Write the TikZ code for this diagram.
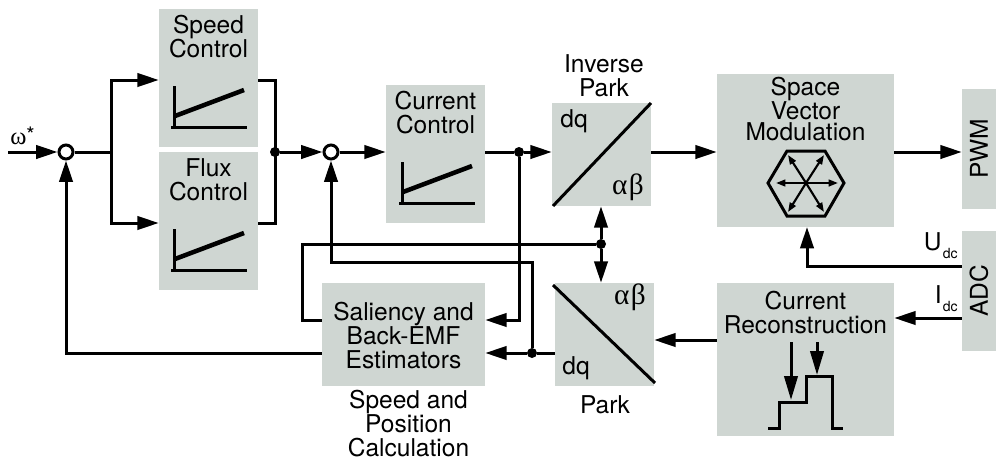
\documentclass[tikz,border=0pt]{standalone}
\usepackage{fontspec}
\setmainfont{TeX Gyre Heros}
\newfontfamily\grkfont{Liberation Serif}
\usetikzlibrary{arrows.meta}
\definecolor{boxgray}{RGB}{207,214,210}
\newcommand{\dcsub}{\kern1pt\raisebox{-6pt}{\fontsize{10.5}{11}\selectfont dc}}
\newcommand{\abtxt}{\fontsize{22}{22}\grkfont α\kern1pt β}
\tikzset{
  block/.style={fill=boxgray,inner sep=0pt},
  lbl/.style={inner sep=0.75pt,align=center,font=\fontsize{18.4}{18}\selectfont},
  tight/.style={lbl,font=\fontsize{18.4}{16}\selectfont},
  sig/.style={line width=2.25pt,-{Triangle[length=16pt,width=10pt]}},
  wire/.style={line width=2.25pt},
  dotj/.style={circle,fill=black,inner sep=0pt,minimum size=7.5pt},
  sumj/.style={circle,draw,line width=2.25pt,fill=white,inner sep=0pt,minimum size=10.5pt},
  vec/.style={line width=1.6pt,-{Triangle[length=7pt,width=5pt]}},
}
\begin{document}
\begin{tikzpicture}[x=0.75pt,y=0.75pt,yscale=-1,xscale=1]
\useasboundingbox (0,0) rectangle (996,458);

% Blocks
\node (speed) [block,minimum width=74.25pt,minimum height=103.5pt] at (208.5,78) {};
\node (flux) [block,minimum width=74.25pt,minimum height=103.5pt] at (208.5,221) {};
\node (curctl) [block,minimum width=74.25pt,minimum height=103.5pt] at (435.5,154) {};
\node (invpark) [block,minimum width=74.25pt,minimum height=77.25pt] at (601.5,154.5) {};
\node (svm) [block,minimum width=132.75pt,minimum height=114.75pt] at (805.5,150.5) {};
\node (pwm) [block,minimum width=25.5pt,minimum height=90pt] at (979,149) {};
\node (adc) [block,minimum width=25.5pt,minimum height=90pt] at (979,291) {};
\node (estim) [block,minimum width=122.25pt,minimum height=77.25pt] at (403.5,334.5) {};
\node (park) [block,minimum width=74.25pt,minimum height=77.25pt] at (604.5,334.5) {};
\node (recon) [block,minimum width=132.75pt,minimum height=114.75pt] at (805.5,359.5) {};

% Junctions
\node (sumw) [sumj] at (66,152) {};
\node (sumi) [sumj] at (331,152) {};
\node (jctl) [dotj] at (275,152) {};
\node (jcur) [dotj] at (519,152) {};
\node (jest) [dotj] at (601,244) {};
\node (jpark) [dotj] at (532,353) {};
\coordinate (wstart) at (8,152);
\coordinate (split) at (111,152);

%Straight Lines
\draw [sig] (wstart) -- (sumw);
\draw [wire] (sumw) -- (split);
\draw [sig] (split) |- (speed.west |- 0,80);
\draw [sig] (split) |- (flux.west |- 0,223);
\draw [wire] (speed.east |- 0,80) -| (jctl.center) |- (flux.east |- 0,223);
\draw [sig] (jctl) -- (sumi);
\draw [sig] (sumi) -- (curctl.west |- sumi);
\draw [wire] (curctl.east |- jcur) -- (jcur);
\draw [sig] (jcur) -- (invpark.west |- jcur);
\draw [sig] (invpark.east |- 0,152) -- (svm.west |- 0,152);
\draw [sig] (svm.east |- 0,152) -- (pwm.west |- 0,152);
\draw [sig] (adc.west |- 0,266) -| (807,227);
\draw [sig] (adc.west |- 0,318) -- (recon.east |- 0,318);
\draw [sig] (recon.west |- 0,340) -- (park.east |- 0,340);
\draw [wire] (park.west |- jpark) -- (jpark);
\draw [sig] (jpark) -- (estim.east |- jpark);
\draw [sig] (jest) -- (jest |- invpark.south);
\draw [sig] (jest) -- (jest |- park.north);
\draw [wire] (jest) -- (302,244) |- (estim.west |- 0,320);
\draw [sig] (jcur) |- (estim.east |- 0,320);
\draw [sig] (jpark) |- (sumi |- 0,262) -- (sumi);
\draw [sig] (estim.west |- 0,353) -| (sumw);

% Gain plots
\foreach \ox/\oy in {0/0,0/143,228/76}{
  \begin{scope}[shift={(\ox,\oy)}]
  \draw [line width=2.25pt] (174,86) -- (174,127);
  \draw [line width=2.25pt] (171,127) -- (247,127);
  \draw [line width=3.4pt] (175,116) -- (244,90);
  \end{scope}
}

% Park diagonals
\draw [line width=2.25pt] (553,206) -- (651,103);
\draw [line width=2.25pt] (553,285) -- (655,383);

% Hexagon
\draw [line width=2.25pt] (768,183) -- (787,151) -- (825,151) -- (844,183) -- (825,216) -- (787,216) -- cycle;
\foreach \tx/\ty in {776/183,838/183,788/155,824/155,788/212,824/212}{
  \draw [vec] (806,183) -- (\tx,\ty);
}

% Pulse
\draw [line width=2.25pt] (768,428) -- (779,428) -- (779,402) -- (806,402) -- (806,376) -- (832,376) -- (832,428) -- (843,428);
\draw [line width=2.25pt,-{Triangle[length=18pt,width=10pt]}] (791,342) -- (791,400);
\draw [line width=2.25pt,-{Triangle[length=18pt,width=10pt]}] (817,342) -- (817,375);

% Text Node
\node (speedtxt) [lbl] at (208.5,37) {Speed\\Control};
\node (fluxtxt) [lbl] at (208.5,180) {Flux\\Control};
\node (curtxt) [lbl] at (435.5,113) {Current\\Control};
\node (invtxt) [lbl] at (604,76) {Inverse\\Park};
\node (svmtxt) [tight] at (805.5,109) {Space\\Vector\\Modulation};
\node (pwmtxt) [lbl,rotate=90] at (979,149) {PWM};
\node (adctxt) [lbl,rotate=90] at (979,291) {ADC};
\node (esttxt) [lbl] at (403.5,336) {Saliency and\\Back-EMF\\Estimators};
\node (calctxt) [lbl] at (408.5,424) {Speed and\\Position\\Calculation};
\node (parktxt) [lbl] at (605,405) {Park};
\node (rectxt) [lbl] at (805.5,313) {Current\\Reconstruction};
\node (dqi) [lbl] at (574,121) {dq};
\node (abi) [lbl] at (628,187) {\abtxt};
\node (dqp) [lbl] at (576,368) {dq};
\node (abp) [lbl] at (630,297) {\abtxt};
\node (wtxt) [lbl,anchor=west] at (9,136) {{\grkfont ω}\raisebox{2pt}{\fontsize{16}{16}\selectfont *}};
\node (udc) [lbl,anchor=east] at (959,246) {U\dcsub};
\node (idc) [lbl,anchor=east] at (959,299) {I\dcsub};

\end{tikzpicture}
\end{document}
